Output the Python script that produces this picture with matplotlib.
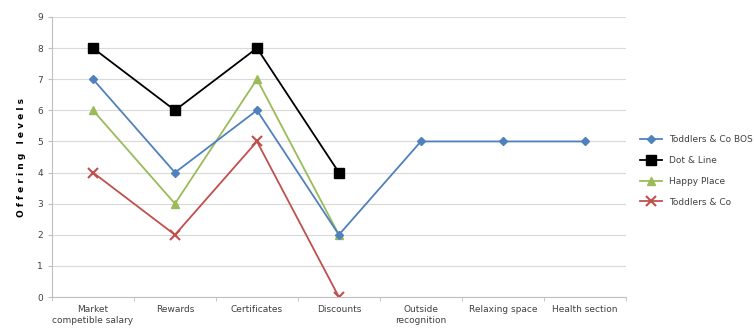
import matplotlib.pyplot as plt
import numpy as np

categories = ['Market\ncompetible salary', 'Rewards', 'Certificates', 'Discounts',
              'Outside\nrecognition', 'Relaxing space', 'Health section']
bos = [7, 4, 6, 2, 5, 5, 5]
dot_line = [8, 6, 8, 4]
happy = [6, 3, 7, 2]
toddlers = [4, 2, 5, 0]

fig = plt.figure(figsize=(7.54, 3.33), dpi=100)
ax = fig.add_axes([0.069, 0.108, 0.761, 0.841])

x = np.arange(len(categories))
ax.plot(x[:len(bos)], bos, color='#4F81BD', marker='D', markersize=4, lw=1.3,
        label='Toddlers & Co BOS', zorder=3)
ax.plot(x[:len(dot_line)], dot_line, color='black', marker='s', markersize=7, lw=1.3,
        label='Dot & Line', zorder=2)
ax.plot(x[:len(happy)], happy, color='#9BBB59', marker='^', markersize=6, lw=1.3,
        label='Happy Place', zorder=2)
ax.plot(x[:len(toddlers)], toddlers, color='#C0504D', marker='x', markersize=7, mew=1.5,
        lw=1.3, label='Toddlers & Co', zorder=2)

ax.set_xlim(-0.5, len(categories) - 0.5)
ax.set_ylim(0, 9)
ax.set_yticks(range(10))
ax.set_xticks(x)
ax.set_xticklabels(categories, fontsize=6.5, color='#404040')
ax.set_xticks(np.arange(-0.5, len(categories)), minor=True)
ax.tick_params(axis='x', which='major', length=0, pad=6)
ax.tick_params(axis='x', which='minor', length=3, color='#bfbfbf')
ax.tick_params(axis='y', labelsize=6.5, labelcolor='#404040', length=3, color='#bfbfbf')
ax.grid(axis='y', color='#d9d9d9', lw=0.8)
ax.set_axisbelow(True)
for side in ['top', 'right']:
    ax.spines[side].set_visible(False)
for side in ['left', 'bottom']:
    ax.spines[side].set_color('#bfbfbf')

ax.set_ylabel('O f f e r i n g   l e v e l s', fontsize=6.5, fontweight='bold', labelpad=8)

ax.legend(loc='center left', bbox_to_anchor=(1.01, 0.45), frameon=False,
          fontsize=6.5, handlelength=2.5, labelspacing=1.3, labelcolor='#404040')

plt.savefig('out.png', dpi=100)
